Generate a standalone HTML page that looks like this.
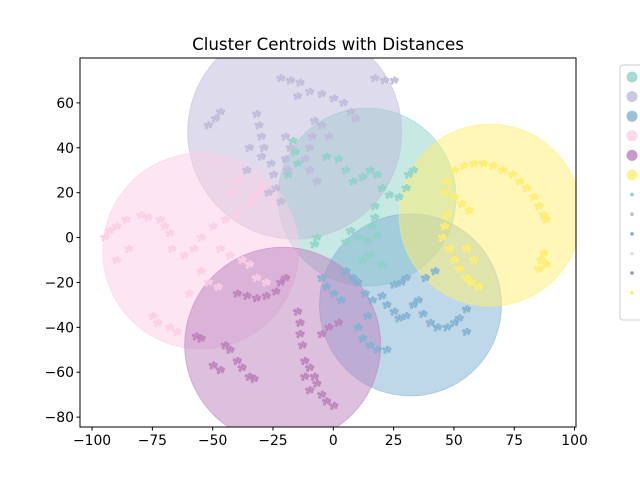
<!DOCTYPE html>
<html><head><meta charset="utf-8"><style>
body{margin:0;background:#fff;}
svg{display:block;font-family:"DejaVu Sans","Liberation Sans",sans-serif;}
</style></head><body>
<svg id="chart" width="640" height="480" viewBox="0 0 640 480">
<rect width="640" height="480" fill="#fff"/>
<text x="328" y="50" text-anchor="middle" font-size="16.7">Cluster Centroids with Distances</text>
<g id="plot"></g>
<rect x="80" y="58" width="496" height="369" fill="none" stroke="#000" stroke-width="1"/>
<g id="axes"></g>
<g id="legend"></g>
</svg>
<script>
const clusterNames = ["Cluster 0","Cluster 1","Cluster 2","Cluster 3","Cluster 4","Cluster 5"];
const clusterColors = ["#8dd3c7","#bebada","#80b1d3","#fccde5","#bc80bd","#ffed6f"];
const centroidX = [14, -16, 32, -55, -21, 65];
const centroidY = [18, 47, -30, -6, -48, 10];
const radiusPx = [89, 107, 91, 98, 98, 91];
const xTicks = [-100,-75,-50,-25,0,25,50,75,100];
const yTicks = [-80,-60,-40,-20,0,20,40,60];
const pts0 = [[-17,43],[-16,38],[-15,33],[-19,28],[-3,36],[2,35],[5,30],[8,25],[12,27],[15,30],[18,28],[20,22],[23,19],[27,18],[30,22],[31,28],[33,30],[17,14],[17,9],[16,5],[18,1],[14,-1],[10,0],[7,3],[5,-2],[-8,-3],[-7,0],[15,-8],[12,-10],[20,-12]];
const pts1 = [[-52,50],[-49,53],[-47,56],[-32,55],[-31,50],[-30,45],[-29,40],[-30,36],[-26,33],[-25,28],[-24,22],[-22,71],[-18,70],[-14,69],[-15,63],[-10,65],[-5,64],[0,62],[4,60],[7,56],[9,53],[-20,45],[-18,40],[-20,35],[-19,30],[-8,52],[-9,45],[-10,40],[-12,35],[-5,50],[-2,45],[17,71],[21,70],[25,70],[-35,40],[-36,30],[-27,20],[-22,16],[-10,30],[-7,25]];
const pts2 = [[5,-15],[8,-18],[10,-20],[13,-25],[16,-28],[20,-26],[22,-30],[25,-33],[27,-36],[30,-35],[33,-30],[35,-28],[37,-34],[40,-38],[43,-40],[47,-40],[50,-38],[52,-36],[55,-32],[55,-42],[25,-21],[28,-20],[30,-18],[15,-48],[18,-50],[22,-50],[10,-40],[12,-45],[-3,-22],[0,-25],[3,-28],[14,-35],[38,-18],[42,-15],[-5,-18]];
const pts3 = [[-95,0],[-93,3],[-90,5],[-86,8],[-80,10],[-77,9],[-72,8],[-70,5],[-68,2],[-67,-5],[-62,-8],[-58,-5],[-55,0],[-50,5],[-45,8],[-40,10],[-35,15],[-33,18],[-30,22],[-40,25],[-42,20],[-47,-5],[-43,-8],[-38,-10],[-35,-12],[-32,-18],[-28,-20],[-75,-35],[-73,-38],[-68,-40],[-65,-42],[-55,-15],[-52,-20],[-48,-22],[-60,-25],[-90,-10],[-85,-5]];
const pts4 = [[-40,-25],[-36,-26],[-32,-27],[-28,-26],[-24,-24],[-22,-20],[-20,-18],[-15,-33],[-14,-38],[-14,-43],[-13,-48],[-12,-55],[-10,-58],[-8,-62],[-7,-65],[-5,-70],[-3,-73],[0,-75],[-5,-43],[-2,-40],[2,-38],[-45,-48],[-43,-50],[-40,-55],[-38,-58],[-35,-62],[-33,-63],[-55,-45],[-57,-44],[-50,-57],[-47,-59],[-10,-68],[-12,-62]];
const pts5 = [[46,20],[47,25],[50,30],[54,32],[58,33],[62,33],[66,32],[70,30],[74,28],[77,25],[80,22],[83,18],[85,14],[87,10],[88,8],[47,10],[46,5],[45,0],[48,-5],[50,-10],[52,-14],[55,-18],[57,-20],[60,-22],[58,-10],[55,-5],[86,-10],[88,-12],[85,-14],[87,-7],[50,18],[53,15],[56,12]];
const allPts = [pts0,pts1,pts2,pts3,pts4,pts5];

const NS="http://www.w3.org/2000/svg";
const X0=80,X1=576,Y0=58,Y1=427, xmin=-105, xmax=100.6, ymin=-84.4, ymax=80;
function sx(v){return X0+(v-xmin)/(xmax-xmin)*(X1-X0);}
function sy(v){return Y1-(v-ymin)/(ymax-ymin)*(Y1-Y0);}
function mk(tag,attrs,parent){const e=document.createElementNS(NS,tag);for(const k in attrs)e.setAttribute(k,attrs[k]);parent.appendChild(e);return e;}
const plot=document.getElementById('plot');
const clip=mk('clipPath',{id:'pc'},plot);mk('rect',{x:X0,y:Y0,width:X1-X0,height:Y1-Y0},clip);
const g=mk('g',{'clip-path':'url(#pc)'},plot);
for(let i=0;i<6;i++){
  const c=mk('circle',{cx:sx(centroidX[i]),cy:sy(centroidY[i]),r:radiusPx[i],fill:clusterColors[i],'fill-opacity':0.5,stroke:clusterColors[i],'stroke-opacity':0.5},g);
  
  
}
const offs=[[0,0],[2.5,1.5],[-1.5,2.5],[1,-2.5],[-2.5,-1],[3.5,-1]];
for(let i=0;i<6;i++){
  const pg=mk('g',{},g);
  
  
  allPts[i].forEach(p=>{
    offs.forEach(o=>mk('circle',{cx:sx(p[0])+o[0],cy:sy(p[1])+o[1],r:1.6,fill:clusterColors[i],'fill-opacity':0.9},pg));
  });
}
const axes=document.getElementById('axes');
xTicks.forEach(t=>{
  const x=sx(t);
  const l=mk('line',{x1:x,x2:x,y1:Y1,y2:Y1+3.5,stroke:'#000'},axes);
  
  
  const tx=mk('text',{x:x,y:Y1+18,'text-anchor':'middle','font-size':13.9},axes);
  tx.textContent=(t<0?'\u2212'+(-t):t);
  
  
});
yTicks.forEach(t=>{
  const y=sy(t);
  const l=mk('line',{x1:X0-3.5,x2:X0,y1:y,y2:y,stroke:'#000'},axes);
  
  
  const tx=mk('text',{x:X0-6,y:y+5,'text-anchor':'end','font-size':13.9},axes);
  tx.textContent=(t<0?'\u2212'+(-t):t);
  
  
});
const lg=document.getElementById('legend');
mk('rect',{x:620,y:65,width:40,height:255,rx:3,fill:'#fff','fill-opacity':0.8,stroke:'#ccc'},lg);
for(let i=0;i<12;i++){
  const ci=i%6, y=77+i*19.6;
  const e=mk('circle',{cx:632,cy:y,r:i<6?5.5:1.8,fill:clusterColors[ci],'fill-opacity':i<6?0.8:1},lg);
  
  
}
</script>
</body></html>
